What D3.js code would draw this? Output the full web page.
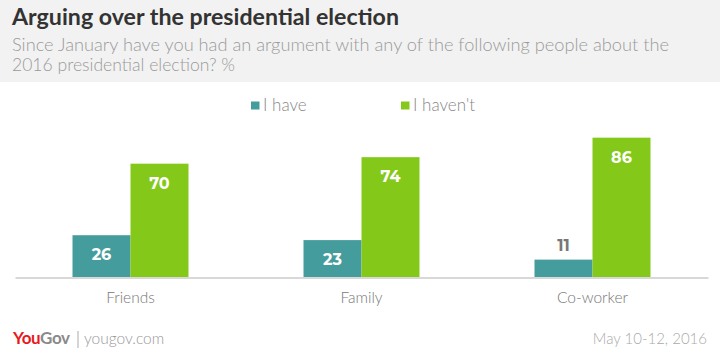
<!DOCTYPE html>
<html><head><meta charset="utf-8">
<script src="https://cdn.jsdelivr.net/npm/d3@7"></script>
<style>body{margin:0;background:#fff}svg{display:block}</style>
</head><body>
<svg id="c" width="720" height="357"></svg>
<script>
const categories = ["Friends", "Family", "Co-worker"];
const seriesNames = ["I have", "I haven't"];
const haveValues = [26, 23, 11];
const haventValues = [70, 74, 86];
const colors = ["#459c9c", "#84c91a"];

const svg = d3.select("#c");
const W = 720, H = 357;
const font = "Lato, 'Open Sans', sans-serif";

svg.append("rect").attr("x",0).attr("y",0).attr("width",W).attr("height",82).attr("fill","#f2f2f2");
svg.append("text").attr("x",12).attr("y",25).attr("font-family",font).attr("font-weight",700)
  .attr("font-size",22).attr("fill","#333")
  .attr("textLength",387).attr("lengthAdjust","spacingAndGlyphs")
  .text("Arguing over the presidential election");
svg.append("text").attr("x",12).attr("y",51).attr("font-family",font).attr("font-size",17).attr("fill","#9a9a9a").attr("font-weight",300)
  .attr("textLength",657).attr("lengthAdjust","spacingAndGlyphs")
  .text("Since January have you had an argument with any of the following people about the");
svg.append("text").attr("x",12).attr("y",71).attr("font-family",font).attr("font-size",17).attr("fill","#9a9a9a").attr("font-weight",300)
  .attr("textLength",223).attr("lengthAdjust","spacingAndGlyphs")
  .text("2016 presidential election? %");

const x0 = d3.scaleBand().domain(categories).range([15, 708]);
const x1 = d3.scaleBand().domain(seriesNames).range([x0.bandwidth()/2 - 58, x0.bandwidth()/2 + 58]);
const y = d3.scaleLinear().domain([0, 100]).range([277.5, 114.9]);

const data = categories.map((c,i)=>({cat:c, vals:[haveValues[i], haventValues[i]]}));
const g = svg.append("g");
const groups = g.selectAll("g.grp").data(data).enter().append("g").attr("transform",d=>`translate(${x0(d.cat)},0)`);
groups.selectAll("rect").data(d=>d.vals.map((v,j)=>({v, s:seriesNames[j], j})))
  .enter().append("rect")
  .attr("x",d=>x1(d.s)).attr("width",x1.bandwidth())
  .attr("y",d=>y(d.v)).attr("height",d=>y(0)-y(d.v)).attr("fill",d=>colors[d.j]);
groups.selectAll("text.val").data(d=>d.vals.map((v,j)=>({v, s:seriesNames[j], j})))
  .enter().append("text")
  .attr("x",d=>x1(d.s)+x1.bandwidth()/2)
  .attr("y",d=> (y(0)-y(d.v) > 30) ? y(d.v)+25 : y(d.v)-9)
  .attr("text-anchor","middle").attr("font-family","Montserrat, 'Open Sans', sans-serif").attr("font-weight",700)
  .attr("font-size",16)
  .attr("fill",d=> (y(0)-y(d.v) > 30) ? "#fff" : "#777")
  .text(d=>d.v);

// axis
const ax = svg.append("g").attr("transform",`translate(0,${y(0)})`)
  .call(d3.axisBottom(x0).tickSize(0).tickPadding(14));
ax.select(".domain").attr("stroke","#d8d8d8").attr("stroke-width",2);
ax.selectAll("text").attr("font-family",font).attr("font-size",15.5).attr("fill","#777").attr("font-weight",300);

// legend
const leg = svg.append("g");
const legX = [251, 401];
seriesNames.forEach((s,i)=>{
  leg.append("rect").attr("x",legX[i]).attr("y",101.5).attr("width",8.5).attr("height",8).attr("fill",colors[i]);
  leg.append("text").attr("x",legX[i]+12).attr("y",110.5).attr("font-family",font).attr("font-weight",300)
    .attr("font-size",17).attr("fill","#888").text(s);
});

// footer
const ft = svg.append("text").attr("x",13).attr("y",344).attr("font-family",font).attr("font-weight",700).attr("font-size",17).attr("letter-spacing",-0.4);
ft.append("tspan").attr("fill","#e8191c").text("You");
ft.append("tspan").attr("fill","#8a8a8a").text("Gov");
svg.append("line").attr("x1",78).attr("x2",78).attr("y1",331).attr("y2",348).attr("stroke","#aaa").attr("stroke-width",1);
svg.append("text").attr("x",84).attr("y",344).attr("font-family",font).attr("font-weight",300).attr("font-size",15.5).attr("fill","#999").text("yougov.com");
svg.append("text").attr("x",707).attr("y",344).attr("text-anchor","end").attr("font-family",font).attr("font-weight",300).attr("font-size",15).attr("fill","#aaa").text("May 10-12, 2016");
</script>
</body></html>
